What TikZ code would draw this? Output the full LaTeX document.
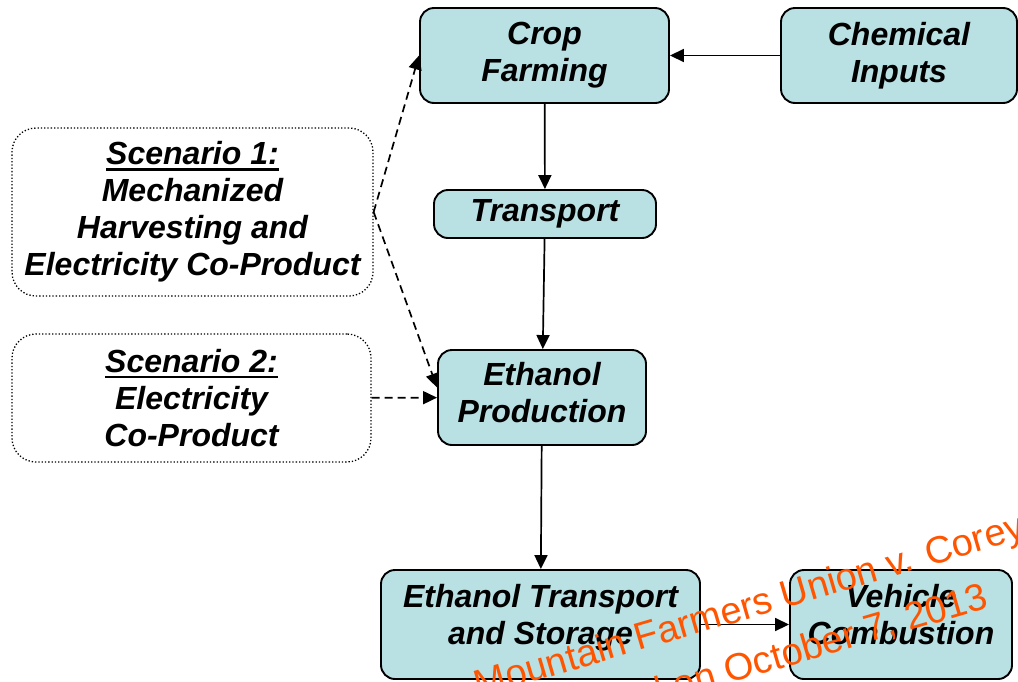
\documentclass[tikz,border=0pt]{standalone}
\usepackage{fontspec}
\setmainfont{Liberation Sans}
\usetikzlibrary{arrows.meta}

\definecolor{boxteal}{RGB}{185,224,227}
\definecolor{stamp}{RGB}{255,85,0}
\newcommand{\ulhead}[1]{\leavevmode\setbox0\hbox{#1}\rlap{\rule[-6pt]{\wd0}{2.6pt}}\box0}

\begin{document}
\begin{tikzpicture}[x=1pt, y=-1pt, ->, >={Triangle[length=14pt, width=13pt]}, line width=1.7pt,
		stage/.style={draw, fill=boxteal, rounded corners=14pt, line width=1.9pt, align=center, inner sep=0pt,
			font=\fontsize{32}{37}\selectfont\bfseries\itshape},
		scen/.style={draw, dotted, rounded corners=24pt, line width=1.3pt, align=center, inner sep=0pt,
			font=\fontsize{32}{37}\selectfont\bfseries\itshape},
		dashy/.style={dash pattern=on 8pt off 5pt},
		stamptext/.style={text=stamp, font=\fontsize{38}{38}\selectfont, rotate=16.3, inner sep=0pt}]
		\useasboundingbox (0, 0) rectangle (1018, 681);
		\clip (0, 0) rectangle (1018, 681);

		\node[stage, minimum width=249pt, minimum height=95pt] (crop) at (544.5, 55.5) {Crop\\Farming};
		\node[stage, minimum width=236pt, minimum height=95pt] (chem) at (899, 55.5) {Chemical\\Inputs};
		\node[stage, minimum width=222pt, minimum height=48pt] (transport) at (545, 214) {Transport};
		\node[stage, minimum width=208pt, minimum height=95pt, text depth=10pt] (ethprod) at (542, 397.5) {Ethanol\\Production};
		\node[stage, minimum width=319pt, minimum height=109pt, text depth=20pt] (ets) at (540.5, 624.5) {Ethanol Transport\\and Storage};
		\node[stage, minimum width=222pt, minimum height=109pt, text depth=20pt] (vehicle) at (901, 624.5) {Vehicle\\Combustion};

		\node[scen, minimum width=361pt, minimum height=168pt] (sc1) at (192.5, 212) {\ulhead{Scenario 1:}\\Mechanized\\Harvesting and\\Electricity Co-Product};
		\node[scen, minimum width=359pt, minimum height=128pt] (sc2) at (191.5, 398) {\ulhead{Scenario 2:}\\Electricity\\Co-Product};

		\path (chem) edge (crop)
		(crop) edge (transport)
		(transport) edge (ethprod)
		(ethprod) edge (ets)
		(ets) edge (vehicle);

		\path[dashy] (sc1.east) edge (crop.west)
		(sc1.east) edge ([yshift=10pt]ethprod.west)
		(sc2) edge (ethprod);

		% stamp over the page
		\node[stamptext, anchor=base west] (stamp1) at (478, 698) {Mountain Farmers Union v. Corey};
		\node[stamptext, anchor=base east] (stamp2) at (991, 607) {Filed on October 7, 2013};
	\end{tikzpicture}
\end{document}
